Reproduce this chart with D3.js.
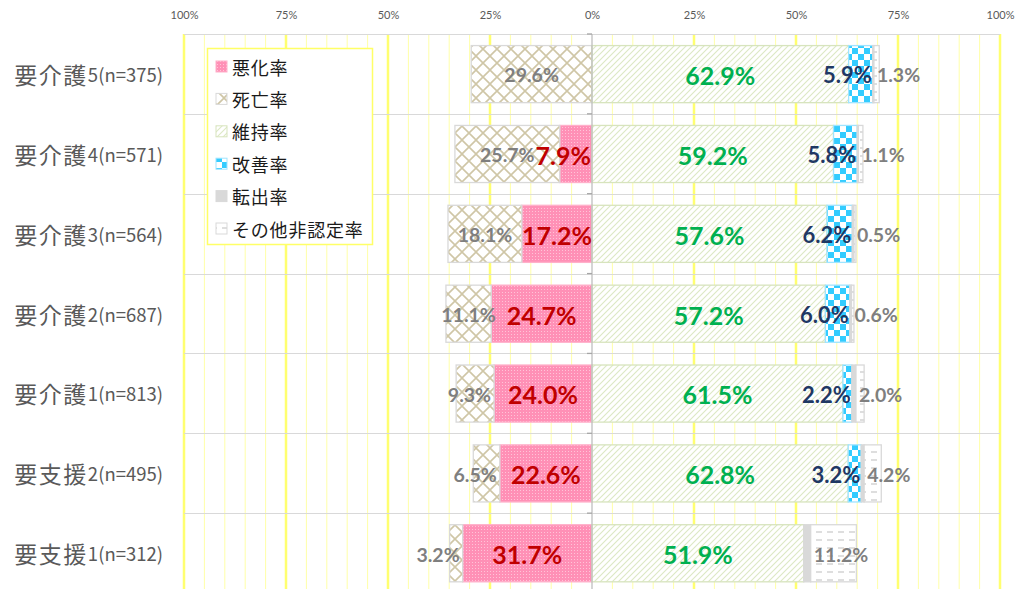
<!DOCTYPE html>
<html><head><meta charset="utf-8">
<script src="https://cdn.jsdelivr.net/npm/d3@7"></script>
<style>body{margin:0;background:#fff;} svg{display:block;}</style>
</head><body>
<svg id="chart" width="1021" height="589"></svg>
<script>
const categories = ["要介護5(n=375)","要介護4(n=571)","要介護3(n=564)","要介護2(n=687)","要介護1(n=813)","要支援2(n=495)","要支援1(n=312)"];
const worsen   = [0, 7.9, 17.2, 24.7, 24.0, 22.6, 31.7];   // 悪化率
const death    = [29.6, 25.7, 18.1, 11.1, 9.3, 6.5, 3.2];  // 死亡率
const maintain = [62.9, 59.2, 57.6, 57.2, 61.5, 62.8, 51.9]; // 維持率
const improve  = [5.9, 5.8, 6.2, 6.0, 2.2, 3.2, 0];        // 改善率
const moveout  = [0.3, 0.3, 0.4, 0.4, 1.0, 0.7, 1.7];      // 転出率
const other    = [1.3, 1.1, 0.5, 0.6, 2.0, 4.2, 11.2];     // その他非認定率
const seriesNames = ["悪化率","死亡率","維持率","改善率","転出率","その他非認定率"];
const tickValues = [-100,-75,-50,-25,0,25,50,75,100];

const svg = d3.select("#chart");
const x = d3.scaleLinear().domain([-100,100]).range([184,1000]);
const y = d3.scaleBand().domain(categories).range([34,593]).padding(0);
const bw = y.bandwidth();
const barOff = bw*0.145, barH = bw*0.715;

// patterns
const defs = svg.append("defs");
function pat(id,w,h){return defs.append("pattern").attr("id",id).attr("patternUnits","userSpaceOnUse").attr("width",w).attr("height",h);}
let p = pat("pPink",3,3);
p.append("rect").attr("width",3).attr("height",3).attr("fill","#FF90B6");
p.append("rect").attr("x",1).attr("y",1).attr("width",1).attr("height",1).attr("fill","#FFC4D8");
p = pat("pDeath",14,14);
p.append("rect").attr("width",14).attr("height",14).attr("fill","#fff");
p.append("path").attr("d","M0,0L14,14M14,0L0,14M-1,13L1,15M13,-1L15,1").attr("stroke","#CFC6A6").attr("stroke-width",1.6);
p = pat("pGreen",6,6);
p.append("rect").attr("width",6).attr("height",6).attr("fill","#fff");
p.append("path").attr("d","M0,6L6,0M-1,1L1,-1M5,7L7,5").attr("stroke","#DCE8C4").attr("stroke-width",1.1);
p = pat("pBlue",12,12);
p.append("rect").attr("width",12).attr("height",12).attr("fill","#fff");
p.append("rect").attr("width",6).attr("height",6).attr("fill","#33CCFF");
p.append("rect").attr("x",6).attr("y",6).attr("width",6).attr("height",6).attr("fill","#33CCFF");
p = pat("pOther",11,8);
p.append("rect").attr("width",11).attr("height",8).attr("fill","#fff");
p.append("path").attr("d","M2,4H8").attr("stroke","#C8C8C8").attr("stroke-width",1.2);

const styles = [
  {fill:"url(#pPink)", stroke:"#FFB0CA"},
  {fill:"url(#pDeath)", stroke:"#D9D9D9"},
  {fill:"url(#pGreen)", stroke:"#D7E4BD"},
  {fill:"url(#pBlue)", stroke:"#9FE4FF"},
  {fill:"#D9D9D9", stroke:"#D9D9D9"},
  {fill:"url(#pOther)", stroke:"#D9D9D9"}
];

// gridlines
const grid = svg.append("g");
grid.selectAll(".minor").data(d3.range(-100,101,5).filter(v=>v%25!==0)).join("line")
  .attr("x1",d=>x(d)).attr("x2",d=>x(d)).attr("y1",34).attr("y2",589)
  .attr("stroke","#FFFFA8").attr("stroke-width",1);
grid.selectAll(".major").data(tickValues.filter(v=>v!==0)).join("line")
  .attr("x1",d=>x(d)).attr("x2",d=>x(d)).attr("y1",34).attr("y2",589)
  .attr("stroke","#FFFF70").attr("stroke-width",2.5);
grid.selectAll(".hsep").data(categories).join("line")
  .attr("x1",184).attr("x2",1000).attr("y1",d=>Math.round(y(d))+0.5).attr("y2",d=>Math.round(y(d))+0.5)
  .attr("stroke","#D9D9D9").attr("stroke-width",1.2);

// top axis labels
const ax = svg.append("g").attr("transform","translate(0,22)")
  .call(d3.axisTop(x).tickValues(tickValues).tickSize(0).tickFormat(d=>Math.abs(d)+"%"));
ax.select(".domain").remove();
ax.selectAll("text").attr("font-family","Lato, 'Liberation Sans', sans-serif").attr("font-size",11).attr("fill","#595959").attr("dy","0");

// bars
const rows = categories.map((c,i)=>{
  const segs = [];
  segs.push({s:0, x0:-worsen[i], x1:0, v:worsen[i]});
  segs.push({s:1, x0:-worsen[i]-death[i], x1:-worsen[i], v:death[i]});
  let acc = 0;
  [maintain[i], improve[i], moveout[i], other[i]].forEach((v,k)=>{segs.push({s:k+2, x0:acc, x1:acc+v, v:v}); acc+=v;});
  return {c, i, segs};
});
const bars = svg.append("g");
rows.forEach(r=>{
  bars.selectAll(null).data(r.segs.filter(d=>d.v>0)).join("rect")
    .attr("x",d=>x(d.x0)).attr("width",d=>x(d.x1)-x(d.x0))
    .attr("y",y(r.c)+barOff).attr("height",barH)
    .attr("fill",d=>styles[d.s].fill).attr("stroke",d=>styles[d.s].stroke).attr("stroke-width",1.3);
});

// center axis
svg.append("line").attr("x1",x(0)).attr("x2",x(0)).attr("y1",34).attr("y2",589).attr("stroke","#BFBFBF").attr("stroke-width",1.3);
svg.selectAll(".ctick").data(categories.slice(1)).join("line")
  .attr("x1",x(0)-5).attr("x2",x(0)).attr("y1",d=>y(d)).attr("y2",d=>y(d)).attr("stroke","#A6A6A6").attr("stroke-width",1.3);
svg.append("line").attr("x1",x(0)-5).attr("x2",x(0)).attr("y1",34).attr("y2",34).attr("stroke","#A6A6A6").attr("stroke-width",1.3);

// data labels
const lf = "Lato, 'Liberation Sans', sans-serif";
const lab = svg.append("g").attr("font-family",lf).attr("font-weight","bold").attr("dominant-baseline","central");
rows.forEach(r=>{
  const i=r.i, cy=y(r.c)+bw/2+1;
  const fmt = v=>v.toFixed(1)+"%";
  if(death[i]>0){
    const small = death[i]<10;
    lab.append("text").attr("x", small? x(-worsen[i])-3 : (x(-worsen[i])+x(-worsen[i]-death[i]))/2)
      .attr("y",cy).attr("text-anchor",small?"end":"middle").attr("font-size",19.5).attr("fill","#7F7F7F").text(fmt(death[i]));
  }
  if(worsen[i]>0){
    const small = worsen[i]<10;
    lab.append("text").attr("x", small? x(0)-1 : (x(0)+x(-worsen[i]))/2)
      .attr("y",cy).attr("text-anchor",small?"end":"middle").attr("font-size",25).attr("fill","#C00000").text(fmt(worsen[i]));
  }
  lab.append("text").attr("x",(x(0)+x(maintain[i]))/2).attr("y",cy).attr("text-anchor","middle")
    .attr("font-size",25).attr("fill","#00B050").text(fmt(maintain[i]));
  if(improve[i]>0){
    lab.append("text").attr("x",x(maintain[i]+improve[i])-1).attr("y",cy).attr("text-anchor","end")
      .attr("font-size",22).attr("fill","#1F3864").text(fmt(improve[i]));
  }
  if(other[i]>0){
    lab.append("text").attr("x",x(maintain[i]+improve[i]+moveout[i])+3).attr("y",cy).attr("text-anchor","start")
      .attr("font-size",19.5).attr("fill","#7F7F7F").text(fmt(other[i]));
  }
});

// category labels
const cl = svg.append("g").attr("font-family","'Noto Sans CJK JP', sans-serif").attr("fill","#595959").attr("dominant-baseline","central");
categories.forEach(c=>{
  const t = cl.append("text").attr("x",163).attr("y",y(c)+bw/2).attr("text-anchor","end").attr("font-size",18.5);
  t.append("tspan").attr("letter-spacing","1.5px").attr("font-size",23).text(c.slice(0,3));
  t.append("tspan").text(c.slice(3));
});

// legend
const lg = svg.append("g");
lg.append("rect").attr("x",207.5).attr("y",48.5).attr("width",165).attr("height",196).attr("fill","#fff").attr("stroke","#FFFF66").attr("stroke-width",1.5);
seriesNames.forEach((n,k)=>{
  const cy = 66.5 + k*32.4;
  lg.append("rect").attr("x",216).attr("y",cy-5.5).attr("width",11).attr("height",11)
    .attr("fill",styles[k].fill).attr("stroke",styles[k].stroke).attr("stroke-width",1);
  lg.append("text").attr("x",232).attr("y",cy).attr("dominant-baseline","central")
    .attr("font-family","'Noto Sans CJK JP', sans-serif").attr("font-size",18).attr("letter-spacing","0.8px").attr("fill","#1a1a1a").text(n);
});
</script>
</body></html>
